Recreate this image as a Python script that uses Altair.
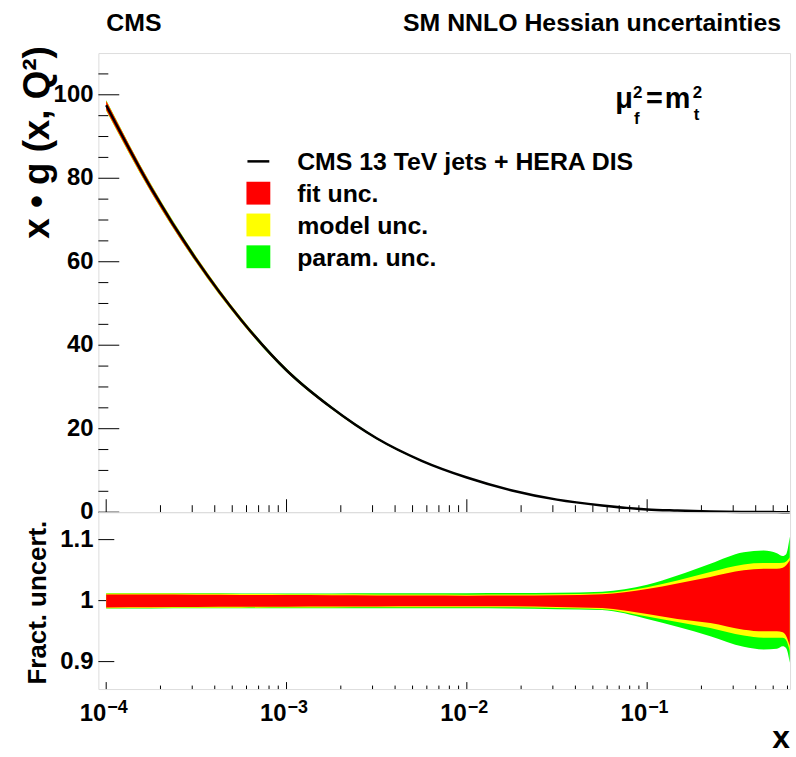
import altair as alt
import pandas as pd

# ---------------- data ----------------
X = [1e-4, 1.78e-4, 3.16e-4, 5.62e-4, 1e-3, 1.78e-3, 3.16e-3, 5.62e-3,
     1e-2, 1.78e-2, 3.16e-2, 5.62e-2, 0.1, 0.147, 0.224, 0.343, 0.443,
     0.524, 0.565, 0.59, 0.618]
XG = [97.5, 77.5, 60.5, 46.0, 34.0, 25.0, 17.7, 12.3, 8.3, 5.2, 3.0, 1.6,
      0.65, 0.38, 0.15, 0.05, 0.02, 0.01, 0.007, 0.006, 0.005]
FIT_UP = [1.0102, 1.0099, 1.0095, 1.0092, 1.0090, 1.0088, 1.0085, 1.0083, 1.0081, 1.0082,
          1.0088, 1.0105, 1.0190, 1.0280, 1.0389, 1.0496, 1.0524, 1.0524, 1.0540, 1.0580, 1.0660]
FIT_LO = [0.9888, 0.9891, 0.9895, 0.9898, 0.9900, 0.9902, 0.9905, 0.9907, 0.9908, 0.9906,
          0.9896, 0.9878, 0.9780, 0.9700, 0.9632, 0.9524, 0.9497, 0.9497, 0.9480, 0.9420, 0.9254]
MODEL_UP = [1.0118, 1.0115, 1.0111, 1.0108, 1.0105, 1.0103, 1.0100, 1.0099, 1.0098, 1.0099,
            1.0104, 1.0122, 1.0220, 1.0330, 1.0470, 1.0594, 1.0616, 1.0616, 1.0620, 1.0640, 1.0710]
MODEL_LO = [0.9873, 0.9877, 0.9881, 0.9884, 0.9887, 0.9888, 0.9890, 0.9891, 0.9891, 0.9890,
            0.9880, 0.9860, 0.9740, 0.9650, 0.9550, 0.9427, 0.9390, 0.9390, 0.9390, 0.9350, 0.9170]
PARAM_UP = [1.0122, 1.0120, 1.0119, 1.0118, 1.0118, 1.0118, 1.0119, 1.0120, 1.0122, 1.0123,
            1.0128, 1.0146, 1.0260, 1.0410, 1.0605, 1.0794, 1.0820, 1.0778, 1.0730, 1.0760, 1.1050]
PARAM_LO = [0.9869, 0.9871, 0.9873, 0.9875, 0.9876, 0.9876, 0.9876, 0.9875, 0.9874, 0.9871,
            0.9860, 0.9845, 0.9700, 0.9570, 0.9416, 0.9243, 0.9200, 0.9210, 0.9250, 0.9220, 0.8980]

X_MAJOR = [1e-4, 1e-3, 1e-2, 1e-1]
X_EXP = ["\u22124", "\u22123", "\u22122", "\u22121"]
X_MINOR = [k * 10.0 ** e for e in (-4, -3, -2, -1) for k in range(2, 10) if k * 10.0 ** e < 0.62]
Y_TOP_MAJOR = [0, 20, 40, 60, 80, 100]
Y_TOP_LABELS = ["0", "20", "40", "60", "80", "100"]
Y_TOP_MINOR = [5, 10, 15, 25, 30, 35, 45, 50, 55, 65, 70, 75, 85, 90, 95, 105]
Y_BOT_MAJOR = [0.9, 1.0, 1.1]
Y_BOT_LABELS = ["0.9", "1", "1.1"]

LEGEND_LABELS = ["CMS 13 TeV jets + HERA DIS", "fit unc.", "model unc.", "param. unc."]
BAND_COLORS = ["#ff0000", "#ffff00", "#00ff00"]

# ---------------- tables ----------------
df = pd.DataFrame({"x": X, "xg": XG,
                   "fit_up": FIT_UP, "fit_lo": FIT_LO,
                   "model_up": MODEL_UP, "model_lo": MODEL_LO,
                   "param_up": PARAM_UP, "param_lo": PARAM_LO})
for k in ["fit", "model", "param"]:
    df[k + "_aup"] = df["xg"] * df[k + "_up"]
    df[k + "_alo"] = df["xg"] * df[k + "_lo"]

FONT = "Liberation Sans"
W = 696
H_TOP = 462
H_BOT = 178
LEFT, TOP = 98, 50          # plot origin inside the 796 x 757 canvas
CANVAS_W, CANVAS_H = 796, 757

xscale = alt.Scale(type="log", domain=[9.05e-5, 0.62])
ytop_scale = alt.Scale(domain=[0, 110], nice=False, zero=False)
ybot_scale = alt.Scale(domain=[0.855, 1.145], nice=False, zero=False)

base = alt.Chart(df)


def bands(suf_up, suf_lo, yscale):
    layers = []
    for k, col in zip(["param", "model", "fit"], BAND_COLORS[::-1]):
        layers.append(base.mark_area(color=col, interpolate="monotone", opacity=1).encode(
            x=alt.X("x:Q", scale=xscale, axis=None),
            y=alt.Y(k + suf_lo + ":Q", scale=yscale, axis=None),
            y2=alt.Y2(k + suf_up + ":Q")))
    return layers


def rules_y(vals, length, yscale):
    return alt.Chart(pd.DataFrame({"t": vals})).mark_rule(color="black", strokeWidth=1).encode(
        y=alt.Y("t:Q", scale=yscale, axis=None), x=alt.value(0), x2=alt.value(length))


def rules_x(vals, length, h):
    return alt.Chart(pd.DataFrame({"t": vals})).mark_rule(color="black", strokeWidth=1).encode(
        x=alt.X("t:Q", scale=xscale, axis=None), y=alt.value(h), y2=alt.value(h - length))


def ylabels(vals, texts, yscale):
    return alt.Chart(pd.DataFrame({"t": vals, "s": texts})).mark_text(
        font=FONT, fontWeight="bold", fontSize=24, align="right", baseline="middle",
        color="black").encode(y=alt.Y("t:Q", scale=yscale, axis=None), x=alt.value(-5),
                              text="s:N")


def label(text, x, y, size, align="left", baseline="alphabetic", angle=0):
    kw = dict(text=text, font=FONT, fontWeight="bold", fontSize=size, align=align,
              baseline=baseline, color="black")
    if angle:
        kw["angle"] = angle
    return alt.Chart(pd.DataFrame({"a": [0]})).mark_text(**kw).encode(
        x=alt.value(x), y=alt.value(y))


# ---------------- top panel ----------------
# invisible canvas box: fixes the layout bounds to the full 796 x 757 page
top_layers = [alt.Chart(pd.DataFrame({"a": [0]})).mark_rect(opacity=0).encode(
    x=alt.value(-LEFT), x2=alt.value(CANVAS_W - LEFT),
    y=alt.value(-TOP), y2=alt.value(CANVAS_H - TOP))]
top_layers += [rules_y(Y_TOP_MAJOR, 21, ytop_scale), rules_y(Y_TOP_MINOR, 10, ytop_scale),
               rules_x(X_MAJOR, 13, H_TOP), rules_x(X_MINOR, 7, H_TOP),
               ylabels(Y_TOP_MAJOR, Y_TOP_LABELS, ytop_scale)]
top_layers += bands("_aup", "_alo", ytop_scale)
top_layers.append(base.mark_line(color="black", strokeWidth=2.5, interpolate="monotone").encode(
    x=alt.X("x:Q", scale=xscale, axis=None),
    y=alt.Y("xg:Q", scale=ytop_scale, axis=None)))

# legend
top_layers.append(alt.Chart(pd.DataFrame({"a": [0]})).mark_rule(color="black", strokeWidth=2.5).encode(
    x=alt.value(150), x2=alt.value(172), y=alt.value(109)))
for i, col in enumerate(BAND_COLORS):
    yc = 141 + 32 * i
    top_layers.append(alt.Chart(pd.DataFrame({"a": [0]})).mark_rect(color=col).encode(
        x=alt.value(149), x2=alt.value(173), y=alt.value(yc - 11.5), y2=alt.value(yc + 11.5)))
for i, lab in enumerate(LEGEND_LABELS):
    top_layers.append(label(lab, 200, 109 + 32 * i + 9, 25))

# header texts
top_layers.append(label("CMS", 8, -22, 25))
top_layers.append(label("SM NNLO Hessian uncertainties", 687, -22, 25, align="right"))
# mu_f^2 = m_t^2
top_layers.append(label("\u03bc", 520, 55, 29))
top_layers.append(label("2", 538, 45, 17))
top_layers.append(label("f", 539, 71, 17))
top_layers.append(label("=", 551, 55, 29))
top_layers.append(label("m", 570, 55, 29))
top_layers.append(label("2", 598, 45, 17))
top_layers.append(label("t", 599, 67, 17))
# y title
top_layers.append(label("x \u2022 g (x, Q\u00b2)", -61, 90, 37, align="center",
                        baseline="middle", angle=270))

top = alt.layer(*top_layers).properties(width=W, height=H_TOP)

# ---------------- bottom panel ----------------
bot_layers = [rules_y(Y_BOT_MAJOR, 16, ybot_scale),
              rules_x(X_MAJOR, 7, H_BOT), rules_x(X_MINOR, 3.5, H_BOT),
              ylabels(Y_BOT_MAJOR, Y_BOT_LABELS, ybot_scale)]
bot_layers += bands("_up", "_lo", ybot_scale)

lab_df = pd.DataFrame({"t": X_MAJOR, "e": X_EXP})
bot_layers.append(alt.Chart(lab_df).mark_text(
    text="10", font=FONT, fontWeight="bold", fontSize=24, align="right", baseline="alphabetic",
    color="black").encode(x=alt.X("t:Q", scale=xscale, axis=None), y=alt.value(H_BOT + 32)))
bot_layers.append(alt.Chart(lab_df).mark_text(
    font=FONT, fontWeight="bold", fontSize=18, align="left", baseline="alphabetic",
    color="black", dx=1).encode(x=alt.X("t:Q", scale=xscale, axis=None), y=alt.value(H_BOT + 24),
                               text="e:N"))
bot_layers.append(label("x", 696, H_BOT + 59, 32, align="right"))
bot_layers.append(label("Fract. uncert.", -61, 91, 26, align="center", baseline="middle", angle=270))

bottom = alt.layer(*bot_layers).properties(width=W, height=H_BOT)

chart = alt.vconcat(top, bottom, spacing=0, bounds="flush").properties(
    padding={"left": 0, "top": 0, "right": 0, "bottom": 0}
).configure_view(stroke="black", strokeWidth=2).configure(background="white")

chart.save("out.html", embed_options={"renderer": "svg", "actions": False})
